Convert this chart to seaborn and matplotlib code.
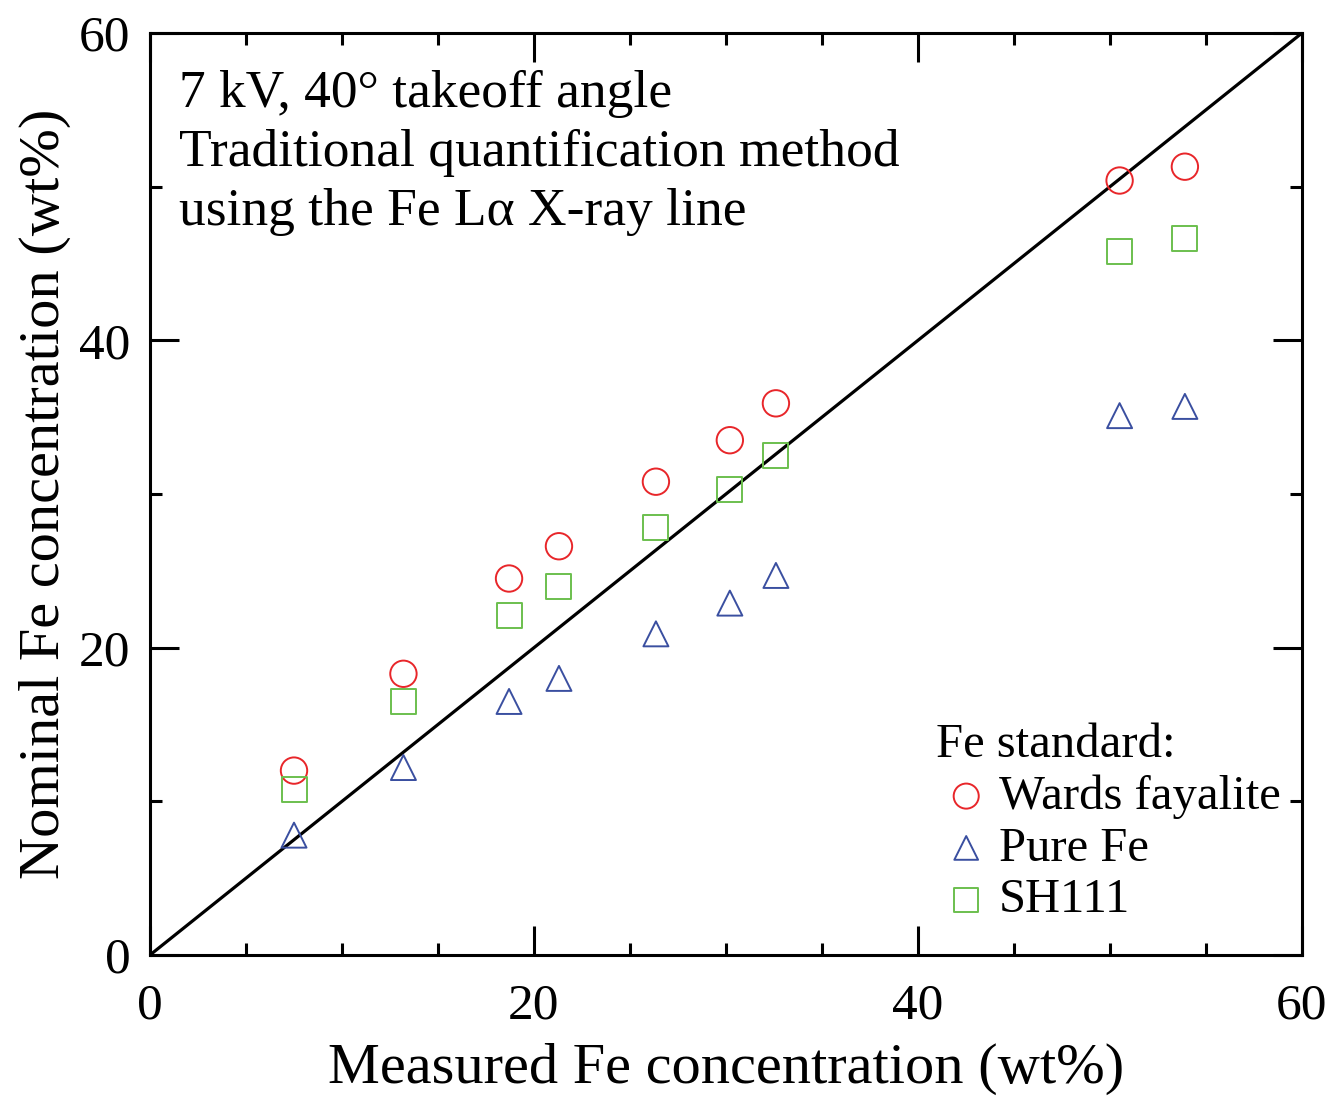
import numpy as np
import pandas as pd
import matplotlib
matplotlib.use("Agg")
import matplotlib.pyplot as plt
import seaborn as sns
from matplotlib.ticker import MultipleLocator

measured = [7.5, 13.2, 18.7, 21.3, 26.35, 30.2, 32.6, 50.5, 53.9]
wards_fayalite = [12.0, 18.3, 24.5, 26.6, 30.8, 33.5, 35.9, 50.4, 51.3]
pure_fe = [7.8, 12.2, 16.5, 18.0, 20.9, 22.9, 24.7, 35.1, 35.7]
sh111 = [10.8, 16.5, 22.1, 24.0, 27.8, 30.3, 32.5, 45.8, 46.6]
series_names = ["Wards fayalite", "Pure Fe", "SH111"]
xticks = [0, 20, 40, 60]
yticks = [0, 20, 40, 60]

df = pd.DataFrame({
    "measured": measured * 3,
    "nominal": wards_fayalite + pure_fe + sh111,
    "standard": sum([[n] * len(measured) for n in series_names], []),
})

sns.set_theme(style="ticks")
plt.rcParams['font.family'] = ['Liberation Serif', 'DejaVu Serif']
plt.rcParams['mathtext.fontset'] = 'stix'
plt.rcParams['text.color'] = 'black'
plt.rcParams['axes.labelcolor'] = 'black'
plt.rcParams['xtick.color'] = 'black'
plt.rcParams['ytick.color'] = 'black'

fig = plt.figure(figsize=(13.33, 10.97), dpi=100)
ax = fig.add_axes([150/1333, 1 - 955/1097, (1302-150)/1333, (955-33)/1097])

palette = {"Wards fayalite": "#e8262a", "Pure Fe": "#3a4fa0", "SH111": "#6bbf4e"}
markers = {"Wards fayalite": "o", "Pure Fe": "^", "SH111": "s"}
sizes = {"Wards fayalite": 19, "Pure Fe": 18, "SH111": 18}

for name in series_names:
    sub = df[df["standard"] == name]
    sns.scatterplot(data=sub, x="measured", y="nominal", ax=ax, marker=markers[name],
                    s=sizes[name] ** 2, facecolors="none",
                    edgecolor=palette[name], linewidth=1.4, label=name, zorder=3)

ax.plot([0, 60], [0, 60], color="black", lw=2.3, zorder=2)

ax.set_xlim(0, 60)
ax.set_ylim(0, 60)
ax.set_xticks(xticks)
ax.set_yticks(yticks)
ax.xaxis.set_minor_locator(MultipleLocator(5))
ax.yaxis.set_minor_locator(MultipleLocator(10))
ax.tick_params(which="major", direction="in", length=21, width=2.2, labelsize=37,
               top=True, right=True, pad=14)
ax.tick_params(axis="x", which="major", pad=20)
ax.tick_params(which="minor", direction="in", length=8.5, width=2.2, top=True, right=True)
for sp in ax.spines.values():
    sp.set_linewidth(2.2)
    sp.set_color("black")

ax.set_xlabel("Measured Fe concentration (wt%)", fontsize=42, labelpad=10)
ax.set_ylabel("Nominal Fe concentration (wt%)", fontsize=42, labelpad=6)

ax.text(0.025, (955 - 70) / 922, "7 kV, 40° takeoff angle\nTraditional quantification method\nusing the Fe Lα X-ray line",
        transform=ax.transAxes, ha="left", va="top", fontsize=38.5, linespacing=1.3)

leg = ax.legend(title="Fe standard:", loc="lower right", frameon=False, fontsize=35,
                title_fontsize=35, handletextpad=0.05, labelspacing=0.16, handlelength=1.25,
                borderaxespad=0.25, markerscale=0.95, bbox_to_anchor=(1.009, 0.001))
leg._legend_box.align = "left"

fig.savefig("out.png", dpi=100)
